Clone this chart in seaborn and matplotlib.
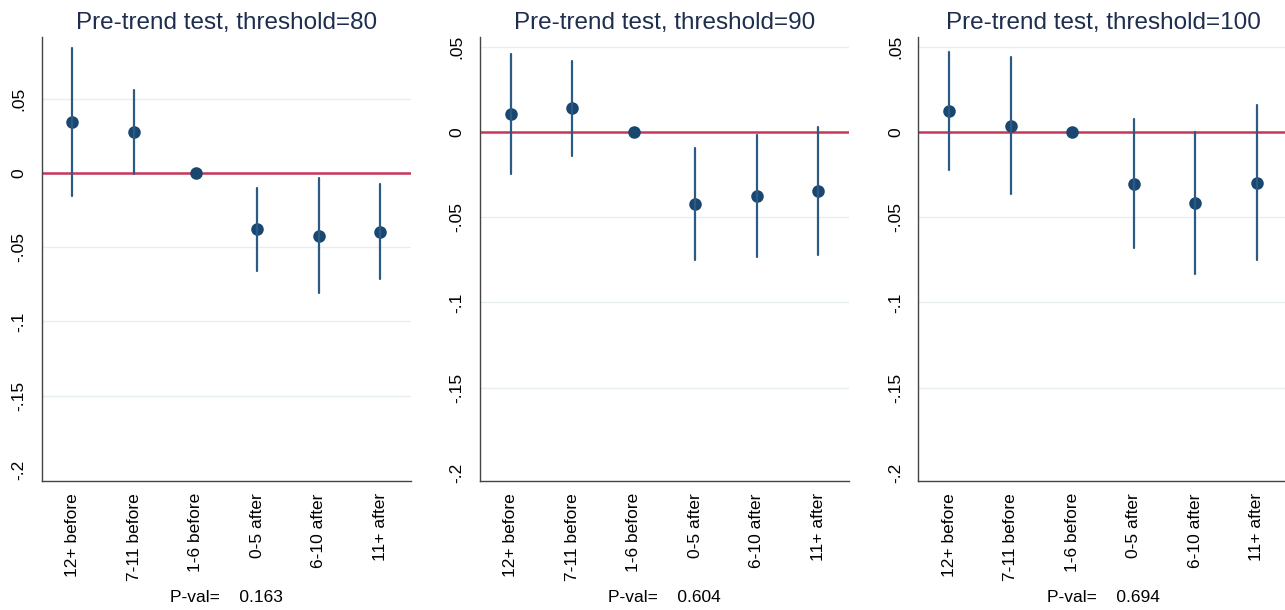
import numpy as np
import pandas as pd
import matplotlib
matplotlib.use("Agg")
import matplotlib.pyplot as plt
from matplotlib import transforms
import seaborn as sns

# ---------------- data ----------------
periods = ["12+ before", "7-11 before", "1-6 before", "0-5 after", "6-10 after", "11+ after"]
thresholds = [80, 90, 100]
pvals = ["0.163", "0.604", "0.694"]

est_80 = [0.0346, 0.0274, 0.0, -0.0380, -0.0422, -0.0395]
lo_80 = [-0.0153, -0.0007, 0.0, -0.0658, -0.0811, -0.0716]
hi_80 = [0.0844, 0.0561, 0.0, -0.0099, -0.0032, -0.0074]

est_90 = [0.0106, 0.0139, 0.0, -0.0424, -0.0376, -0.0343]
lo_90 = [-0.0247, -0.0139, 0.0, -0.0749, -0.0733, -0.0719]
hi_90 = [0.0459, 0.0418, 0.0, -0.0094, -0.0019, 0.0029]

est_100 = [0.0124, 0.0039, 0.0, -0.0304, -0.0416, -0.0296]
lo_100 = [-0.0225, -0.0363, 0.0, -0.0680, -0.0833, -0.0749]
hi_100 = [0.0469, 0.0439, 0.0, 0.0076, 0.0000, 0.0159]

ytick_vals = [0.05, 0.0, -0.05, -0.1, -0.15, -0.2]
ytick_labels = [".05", "0", "-.05", "-.1", "-.15", "-.2"]

series = {80: (est_80, lo_80, hi_80), 90: (est_90, lo_90, hi_90), 100: (est_100, lo_100, hi_100)}
rows = []
for th in thresholds:
    est, lo, hi = series[th]
    for p, e, l, h in zip(periods, est, lo, hi):
        for kind, v in (("lo", l), ("est", e), ("hi", h)):
            rows.append({"threshold": th, "period": p, "kind": kind, "value": v})
df = pd.DataFrame(rows)

# ---------------- style ----------------
sns.set_theme(style="white")
plt.rcParams["font.family"] = ["Liberation Sans", "DejaVu Sans"]

navy = "#1a476f"
err_col = "#2b5a85"
red = "#c8365a"
grid_col = "#e6eef0"
title_col = "#1f2d4e"
spine_col = "#444444"

fig = plt.figure(figsize=(12.85, 6.1), dpi=100)
fig.patch.set_facecolor("white")

positions = [
    [41.7 / 1285, 0.212, 0.2874, 0.7274],
    [480.0 / 1285, 0.212, 0.2872, 0.7274],
    [918.3 / 1285, 0.212, 0.2874, 0.7274],
]
ylims = [(-0.2073, 0.0916), (-0.2047, 0.0559), (-0.2047, 0.0559)]

for th, pos, ylim, pv in zip(thresholds, positions, ylims, pvals):
    ax = fig.add_axes(pos)
    sub = df[df["threshold"] == th]
    sns.pointplot(
        data=sub, x="period", y="value", order=periods,
        estimator="median", errorbar=("pi", 100),
        linestyle="none", color=navy, markersize=7,
        err_kws={"linewidth": 1.6, "color": err_col},
        ax=ax, zorder=3,
    )
    ax.axhline(0, color=red, linewidth=1.8, zorder=1)
    ax.set_xlim(-0.5, len(periods) - 0.5)
    ax.set_ylim(*ylim)
    ax.set_yticks(ytick_vals)
    ax.set_yticklabels(ytick_labels, rotation=90, va="center", fontsize=12.5)
    ax.set_xticks(range(len(periods)))
    ax.set_xticklabels(periods, rotation=90, fontsize=12.5)
    ax.set_xlabel("")
    ax.set_ylabel("")
    ax.yaxis.grid(True, color=grid_col, linewidth=1.0, zorder=0)
    ax.xaxis.grid(False)
    ax.set_axisbelow(True)
    for gl, v in zip(ax.get_ygridlines(), ytick_vals):
        if v <= -0.2:
            gl.set_visible(False)
    ax.tick_params(axis="both", which="major", direction="out", length=5,
                   width=1.0, color=spine_col, labelcolor="black")
    ax.tick_params(axis="y", pad=6)
    ax.tick_params(axis="x", pad=4)
    for s in ("top", "right"):
        ax.spines[s].set_visible(False)
    for s in ("left", "bottom"):
        ax.spines[s].set_visible(True)
        ax.spines[s].set_color(spine_col)
        ax.spines[s].set_linewidth(1.0)
    ax.set_facecolor("white")
    ax.set_title(f"Pre-trend test, threshold={th}", fontsize=17.5, color=title_col, pad=6)
    trans = transforms.blended_transform_factory(ax.transAxes, fig.transFigure)
    ax.text(0.5, 1 - 597 / 610, f"P-val=    {pv}", transform=trans,
            ha="center", va="center", fontsize=12.5, color="black")

fig.savefig("out.png", dpi=100, facecolor="white")
